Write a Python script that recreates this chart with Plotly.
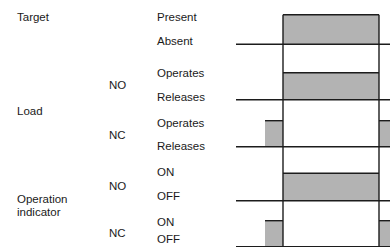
import plotly.graph_objects as go

# ---- data: timing chart ----
# time breakpoints (x positions along the time axis)
t_start = 236
t_nc_pre = 265
t_on = 283
t_off = 379
t_end = 390

signal_names = ["Target", "Load NO", "Load NC", "Indicator NO", "Indicator NC"]
# high periods for each signal (start, end)
target_high = [(t_on, t_off)]
load_no_high = [(t_on, t_off)]
load_nc_high = [(t_nc_pre, t_on), (t_off, t_end)]
ind_no_high = [(t_on, t_off)]
ind_nc_high = [(t_nc_pre, t_on), (t_off, t_end)]
highs = [target_high, load_no_high, load_nc_high, ind_no_high, ind_nc_high]

group_labels = ["Target", "Load", "Operation", "indicator"]
sub_labels = ["NO", "NC", "NO", "NC"]
state_labels = [("Present", "Absent"), ("Operates", "Releases"), ("Operates", "Releases"),
                ("ON", "OFF"), ("ON", "OFF")]

# ---- layout (positions in axis units, y downward) ----
W, H = 390, 247
row_base = [44.3, 99.7, 146.7, 200.7, 246.6]
row_top = [14.7, 72.7, 120.7, 173.3, 220.7]
LINE = "#1c1c1c"
FILL = "#b3b3b3"
LW = 1.4

fig = go.Figure()

for hi, base, top in zip(highs, row_base, row_top):
    for (a, b) in hi:
        fig.add_trace(go.Scatter(x=[a, b, b, a, a], y=[base, base, top, top, base],
                                 mode="lines", fill="toself", fillcolor=FILL,
                                 line=dict(width=0), hoverinfo="skip", showlegend=False))
        fig.add_trace(go.Scatter(x=[a, b], y=[top, top], mode="lines",
                                 line=dict(color=LINE, width=LW), hoverinfo="skip", showlegend=False))
    fig.add_trace(go.Scatter(x=[t_start, t_end], y=[base, base], mode="lines",
                             line=dict(color=LINE, width=LW), hoverinfo="skip", showlegend=False))

for t in (t_on, t_off):
    fig.add_trace(go.Scatter(x=[t, t], y=[row_top[0], H], mode="lines",
                             line=dict(color=LINE, width=LW), hoverinfo="skip", showlegend=False))

FONT = dict(family="Liberation Sans, Arial, sans-serif", size=11.5, color="#1a1a1a")

def txt(x, y, s):
    fig.add_annotation(x=x, y=y, text=s, showarrow=False, xanchor="left", yanchor="middle",
                       font=FONT, xref="x", yref="y", align="left")

group_y = [16.5, 110.5, 199, 212]
for s, y in zip(group_labels, group_y):
    txt(15, y, s)

sub_y = [84.5, 134.5, 185.5, 232.5]
for s, y in zip(sub_labels, sub_y):
    txt(107, y, s)

state_y = [(16.5, 41), (73, 97), (122.5, 146), (172, 196), (221.5, 238.5)]
for (hi_s, lo_s), (yh, yl) in zip(state_labels, state_y):
    txt(155, yh, hi_s)
    txt(155, yl, lo_s)

fig.update_layout(width=W, height=H, margin=dict(l=0, r=0, t=0, b=0),
                  paper_bgcolor="white", plot_bgcolor="white",
                  xaxis=dict(range=[0, W], visible=False, fixedrange=True),
                  yaxis=dict(range=[H, 0], visible=False, fixedrange=True))

fig.write_html("out.html", config={"displayModeBar": False},
               post_script="document.body.style.margin='0';document.body.style.overflow='hidden';")
